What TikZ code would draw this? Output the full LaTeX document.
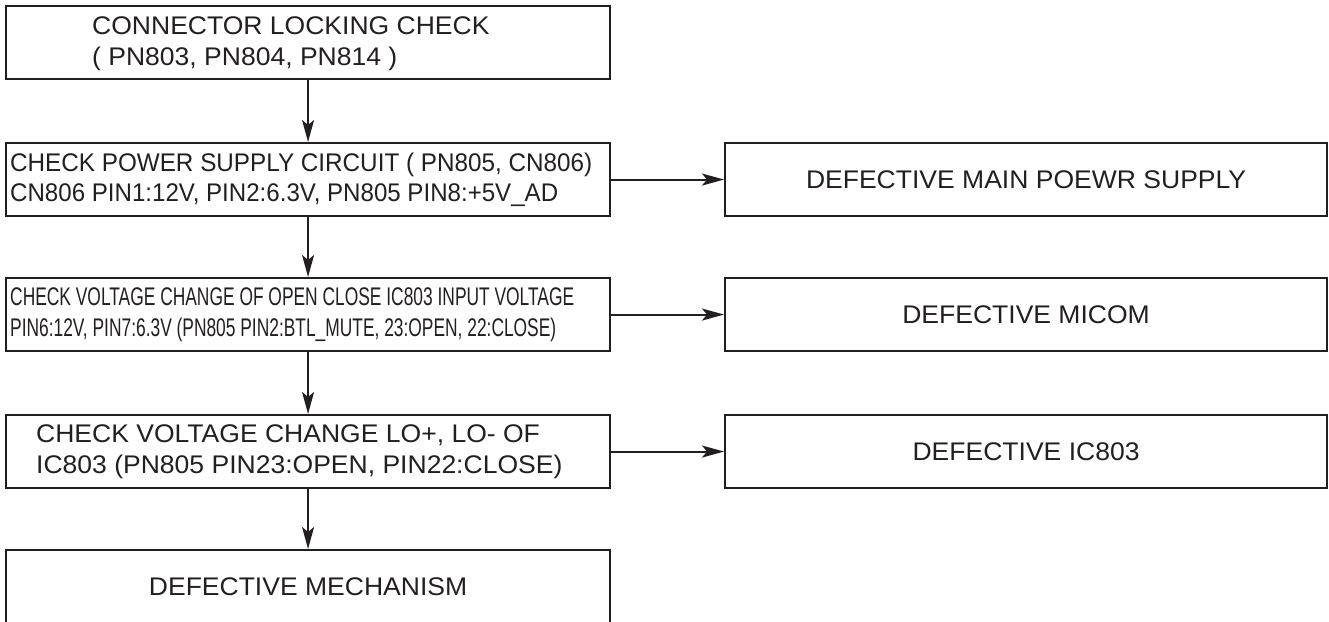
\documentclass[tikz,border=0pt]{standalone}
\usepackage{fontspec}
\usepackage{graphicx}
\setmainfont[FakeStretch=1.04]{Liberation Sans}
\usetikzlibrary{arrows.meta,calc}
\definecolor{ink}{HTML}{231F20}
\tikzset{
  box/.style={draw=ink, line width=2.1pt, minimum width=604pt, minimum height=73pt,
              inner sep=0pt, anchor=north west, text=ink, font=\fontsize{25.5}{30.5}\selectfont},
  rbox/.style={box, minimum width=602pt},
  txt/.style={text=ink, font=\fontsize{25.5}{30.5}\selectfont, inner sep=0pt, align=left, anchor=west},
  arr/.style={draw=ink, line width=2.1pt, -{Stealth[length=22pt,width=12pt,inset=5pt]}},
}
\begin{document}
\begin{tikzpicture}[x=1pt,y=-1pt]
\useasboundingbox (0,0) rectangle (1329,621);
% left column
\node[box] (b1) at (5,5) {};
\node[box] (b2) at (5,142) {};
\node[box] (b3) at (5,277) {};
\node[box] (b4) at (5,414) {};
\node[box] (b5) at (5,549) {DEFECTIVE MECHANISM};
% right column
\node[rbox] (r1) at (724,142) {DEFECTIVE MAIN POEWR SUPPLY};
\node[rbox] (r2) at (724,277) {DEFECTIVE MICOM};
\node[rbox] (r3) at (724,414) {DEFECTIVE IC803};
% texts
\node[txt] (t1) at ($(b1.west)+(87,1)$) {CONNECTOR LOCKING CHECK\\( PN803, PN804, PN814 )};
\node[txt] (t2) at ($(b2.west)+(5,0)$) {\resizebox{582pt}{\height}{CHECK POWER SUPPLY CIRCUIT ( PN805, CN806)}\\\resizebox{548pt}{\height}{CN806 PIN1:12V, PIN2:6.3V, PN805 PIN8:+5V\_AD}};
\node[txt] (t3) at ($(b3.west)+(5,0)$) {\resizebox{564pt}{\height}{CHECK VOLTAGE CHANGE OF OPEN CLOSE IC803 INPUT VOLTAGE}\\\resizebox{546pt}{\height}{PIN6:12V, PIN7:6.3V (PN805 PIN2:BTL\_MUTE, 23:OPEN, 22:CLOSE)}};
\node[txt] (t4) at ($(b4.west)+(31,0)$) {CHECK VOLTAGE CHANGE LO+, LO- OF\\IC803 (PN805 PIN23:OPEN, PIN22:CLOSE)};
% connectors
\draw[arr] (b1.south) -- (b2.north);
\draw[arr] (b2.south) -- (b3.north);
\draw[arr] (b3.south) -- (b4.north);
\draw[arr] (b4.south) -- (b5.north);
\draw[arr] (b2.east) -- (r1.west);
\draw[arr] (b3.east) -- (r2.west);
\draw[arr] (b4.east) -- (r3.west);
\end{tikzpicture}
\end{document}
